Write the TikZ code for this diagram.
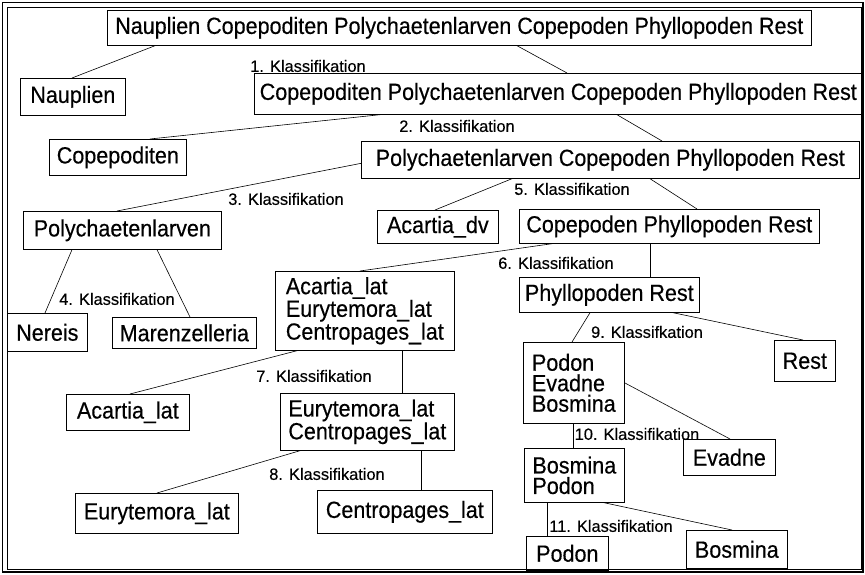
\documentclass[tikz,border=0pt]{standalone}
\usepackage{fontspec}
\setmainfont{Liberation Sans}
\newfontfamily\boxfont[FakeStretch=0.92,FakeBold=0.4]{Liberation Sans}
\newfontfamily\labfont[FakeBold=0.3]{Liberation Sans}
\begin{document}
\begin{tikzpicture}[x=1pt,y=-1pt,
  box/.style={draw,line width=0.7pt,anchor=north west,inner sep=0pt,
    font=\boxfont\fontsize{23.4}{20.5}\selectfont,align=left},
  lab/.style={inner sep=0pt,font=\labfont\fontsize{16.4}{16}\selectfont},
  conn/.style={line width=0.6pt}]
\useasboundingbox (0,0) rectangle (865,575);
% frame
\draw[line width=1.6pt] (2.5,2.5) rectangle (863,572);
\draw[line width=0.6pt] (7,7) rectangle (861,569);
% boxes
\node[box,minimum width=704,minimum height=35] (top) at (107,10) {Nauplien Copepoditen Polychaetenlarven Copepoden Phyllopoden Rest};
\node[box,minimum width=105,minimum height=37] (naup) at (20,78) {Nauplien};
\node[box,minimum width=608,minimum height=41] (b3) at (254,73) {Copepoditen Polychaetenlarven Copepoden Phyllopoden Rest};
\node[box,minimum width=137,minimum height=36] (cope) at (49,139) {Copepoditen};
\node[box,minimum width=498,minimum height=37] (b5) at (361,141) {Polychaetenlarven Copepoden Phyllopoden Rest};
\node[box,minimum width=198,minimum height=38] (poly) at (23,211) {Polychaetenlarven};
\node[box,minimum width=121,minimum height=33] (adv) at (377,210) {Acartia\_dv};
\node[box,minimum width=300,minimum height=34] (cpr) at (519,209) {Copepoden Phyllopoden Rest};
\node[box,minimum width=80,minimum height=38] (nereis) at (7,313) {Nereis};
\node[box,minimum width=144,minimum height=31] (maren) at (112,317) {Marenzelleria};
\node[box,minimum width=179,minimum height=79] (acl3) at (275,271) {Acartia\_lat\\Eurytemora\_lat\\Centropages\_lat};
\node[box,minimum width=123,minimum height=36] (acl) at (66,394) {Acartia\_lat};
\node[box,minimum width=174,minimum height=57] (ec) at (280,393) {Eurytemora\_lat\\Centropages\_lat};
\node[box,minimum width=163,minimum height=40] (eury) at (75,493) {Eurytemora\_lat};
\node[box,minimum width=175,minimum height=43] (centro) at (317,490) {Centropages\_lat};
\node[box,minimum width=180,minimum height=35] (phr) at (519,277) {Phyllopoden Rest};
\node[box,minimum width=61,minimum height=41] (rest) at (774,340) {Rest};
\node[box,minimum width=101,minimum height=81] (peb) at (523,342) {Podon\\Evadne\\Bosmina};
\node[box,minimum width=92,minimum height=36] (evadne) at (683,439) {Evadne};
\node[box,minimum width=100,minimum height=54] (bp) at (524,448) {Bosmina\\Podon};
\node[box,minimum width=82,minimum height=34] (podon) at (526,536) {Podon};
\node[box,minimum width=101,minimum height=38] (bosmina) at (686,530) {Bosmina};
% labels
\node[lab] (k1) at (308,66) {1. Klassifikation};
\node[lab] (k2) at (457,126) {2. Klassifikation};
\node[lab] (k3) at (286,199) {3. Klassifikation};
\node[lab] (k4) at (117,299) {4. Klassifikation};
\node[lab] (k5) at (572,189) {5. Klassifikation};
\node[lab] (k6) at (556,263) {6. Klassifikation};
\node[lab] (k7) at (314,376) {7. Klassifikation};
\node[lab] (k8) at (327,474) {8. Klassifikation};
\node[lab] (k9) at (647,332) {9. Klassifkation};
\node[lab] (k10) at (637,434) {10. Klassifikation};
\node[lab] (k11) at (611,526) {11. Klassifikation};
% connectors
\draw[conn] ([xshift=48pt]top.south west) -- ([xshift=52pt]naup.north west);
\draw[conn] ([xshift=410pt]top.south west) -- ([xshift=313pt]b3.north west);
\draw[conn] ([xshift=126pt]b3.south west) -- ([xshift=101pt]cope.north west);
\draw[conn] ([xshift=363pt]b3.south west) -- ([xshift=301pt]b5.north west);
\draw[conn] ([yshift=-3.5pt]b5.west) -- ([xshift=94pt]poly.north west);
\draw[conn] ([xshift=151pt]b5.south west) -- ([xshift=58pt]adv.north west);
\draw[conn] ([xshift=289pt]b5.south west) -- ([xshift=178pt]cpr.north west);
\draw[conn] ([xshift=49pt]poly.south west) -- ([xshift=38pt]nereis.north west);
\draw[conn] ([xshift=134pt]poly.south west) -- ([xshift=78pt]maren.north west);
\draw[conn] ([xshift=33pt]cpr.south west) -- ([xshift=85pt]acl3.north west);
\draw[conn] ([xshift=131pt]cpr.south west) -- ([xshift=131pt]phr.north west);
\draw[conn] ([xshift=22pt]acl3.south west) -- ([xshift=64pt]acl.north west);
\draw[conn] ([xshift=127pt]acl3.south west) -- ([xshift=122pt]ec.north west);
\draw[conn] ([xshift=20pt]ec.south west) -- ([xshift=82pt]eury.north west);
\draw[conn] ([xshift=141pt]ec.south west) -- ([xshift=104pt]centro.north west);
\draw[conn] ([xshift=71pt]phr.south west) -- ([xshift=49pt]peb.north west);
\draw[conn] ([xshift=154pt]phr.south west) -- ([xshift=29pt]rest.north west);
\draw[conn] (peb.east) -- ([xshift=47pt]evadne.north west);
\draw[conn] ([xshift=50pt]peb.south west) -- ([xshift=49pt]bp.north west);
\draw[conn] ([xshift=23pt]bp.south west) -- ([xshift=21pt]podon.north west);
\draw[conn] ([xshift=80pt]bp.south west) -- ([xshift=46pt]bosmina.north west);
\end{tikzpicture}
\end{document}
